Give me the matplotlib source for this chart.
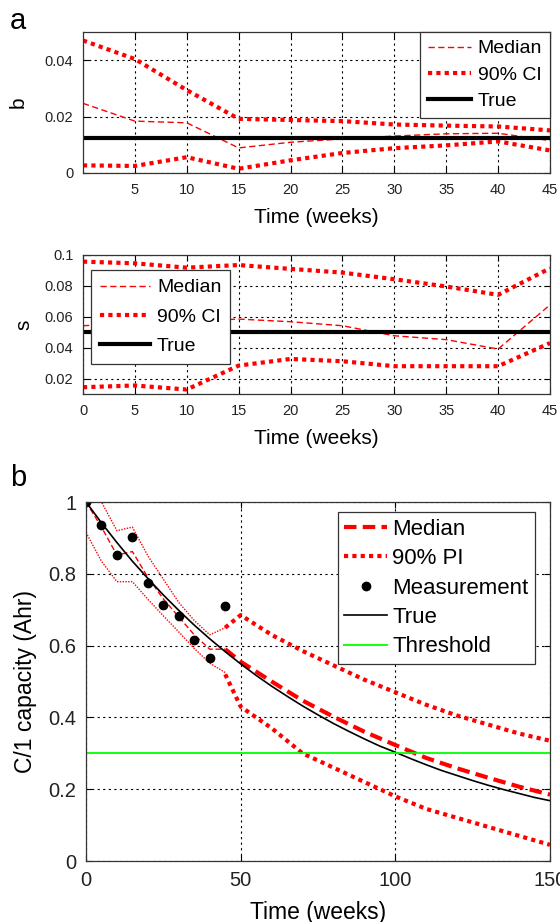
import matplotlib
matplotlib.use("Agg")
import matplotlib.pyplot as plt
import numpy as np

plt.rcParams['font.family'] = ['Liberation Sans', 'DejaVu Sans']

# ---------------- data ----------------
weeks_a = [0, 5, 10, 15, 20, 25, 30, 35, 40, 45]

b_median = [0.0247, 0.0184, 0.0178, 0.0089, 0.0109, 0.0121, 0.0131, 0.0139, 0.0141, 0.0115]
b_upper = [0.0470, 0.0404, 0.0294, 0.0192, 0.0188, 0.0184, 0.0172, 0.0168, 0.0165, 0.0151]
b_lower = [0.0027, 0.0025, 0.0056, 0.0015, 0.0045, 0.0071, 0.0088, 0.0098, 0.0112, 0.0080]
b_true = 0.0124

s_median = [0.0542, 0.0560, 0.0570, 0.0585, 0.0568, 0.0542, 0.0477, 0.0452, 0.0391, 0.0677]
s_upper = [0.0957, 0.0946, 0.0918, 0.0935, 0.0910, 0.0886, 0.0843, 0.0796, 0.0742, 0.0914]
s_lower = [0.0144, 0.0155, 0.0129, 0.0284, 0.0327, 0.0312, 0.0280, 0.0280, 0.0280, 0.0430]
s_true = 0.05

# panel b: estimation phase (weeks 0-45)
meas_weeks = [0, 5, 10, 15, 20, 25, 30, 35, 40, 45]
meas_cap = [1.0, 0.936, 0.852, 0.903, 0.775, 0.713, 0.683, 0.616, 0.565, 0.711]
est_median = [1.0, 0.93, 0.852, 0.862, 0.79, 0.73, 0.68, 0.63, 0.59, 0.59]
est_upper = [1.07, 1.0, 0.92, 0.93, 0.85, 0.785, 0.72, 0.67, 0.63, 0.65]
est_lower = [0.915, 0.835, 0.778, 0.778, 0.729, 0.683, 0.638, 0.592, 0.551, 0.525]

# panel b: prediction phase (weeks 45-150)
pred_weeks = [45, 50, 60, 70, 80, 90, 100, 110, 120, 130, 140, 150]
pred_median = [0.59, 0.555, 0.50, 0.447, 0.402, 0.36, 0.323, 0.287, 0.258, 0.232, 0.207, 0.185]
pred_upper = [0.65, 0.685, 0.63, 0.585, 0.545, 0.505, 0.47, 0.435, 0.405, 0.38, 0.355, 0.335]
pred_lower = [0.52, 0.43, 0.37, 0.30, 0.26, 0.22, 0.18, 0.145, 0.12, 0.095, 0.07, 0.045]

true_weeks = [0, 5, 10, 15, 20, 25, 30, 35, 40, 45, 50, 55, 60, 65, 70, 75, 80, 85, 90,
              95, 100, 105, 110, 115, 120, 125, 130, 135, 140, 145, 150]
true_cap = [1.0, 0.942, 0.887, 0.835, 0.787, 0.741, 0.698, 0.657, 0.619, 0.583, 0.549,
            0.517, 0.487, 0.459, 0.432, 0.407, 0.383, 0.361, 0.340, 0.320, 0.303,
            0.285, 0.268, 0.252, 0.238, 0.224, 0.211, 0.199, 0.188, 0.177, 0.168]
threshold = 0.3

# ---------------- figure ----------------
W, H = 560, 922
fig = plt.figure(figsize=(W / 100, H / 100), dpi=100)

RED = (1, 0, 0)
DOT = (0, (1, 1))


def style_axes(ax, tick_fs):
    ax.grid(True, color='black', linestyle=(0, (2, 3)), linewidth=0.8)
    ax.tick_params(direction='in', top=True, right=True, length=4,
                   labelsize=tick_fs, pad=7, width=0.8, labelcolor='#222222')
    for sp in ax.spines.values():
        sp.set_linewidth(0.9)
        sp.set_color('#333333')
    ax.set_axisbelow(True)


def frame(leg):
    leg.get_frame().set_linewidth(0.9)


# ----- top: b -----
ax1 = fig.add_axes([83 / W, 1 - 173 / H, (550 - 83) / W, (173 - 32) / H])
ax1.plot(weeks_a, b_median, color=RED, lw=1.0, dashes=(4.5, 2.5), label='Median')
ax1.plot(weeks_a, b_upper, color=RED, lw=3.0, linestyle=DOT, dash_capstyle='butt', label='90% CI')
ax1.plot(weeks_a, b_lower, color=RED, lw=3.0, linestyle=DOT, dash_capstyle='butt')
ax1.axhline(b_true, color='black', lw=3.0, label='True')
ax1.set_xlim(0, 45)
ax1.set_ylim(0, 0.05)
ax1.set_xticks([5, 10, 15, 20, 25, 30, 35, 40, 45])
ax1.set_yticks([0, 0.02, 0.04])
ax1.set_yticklabels(['0', '0.02', '0.04'])
style_axes(ax1, 10.5)
ax1.set_xlabel('Time (weeks)', fontsize=15, labelpad=8)
ax1.set_ylabel('b', fontsize=15, labelpad=12)
leg1 = ax1.legend(loc='upper right', bbox_to_anchor=(1, 1), borderaxespad=0,
                  fontsize=14, handlelength=2.2, handletextpad=0.35, labelspacing=0.45,
                  borderpad=0.4, fancybox=False, framealpha=1, edgecolor='#333333')
frame(leg1)

# ----- middle: s -----
ax2 = fig.add_axes([83 / W, 1 - 394 / H, (550 - 83) / W, (394 - 255) / H])
ax2.plot(weeks_a, s_median, color=RED, lw=1.0, dashes=(4.5, 2.5), label='Median')
ax2.plot(weeks_a, s_upper, color=RED, lw=3.0, linestyle=DOT, dash_capstyle='butt', label='90% CI')
ax2.plot(weeks_a, s_lower, color=RED, lw=3.0, linestyle=DOT, dash_capstyle='butt')
ax2.axhline(s_true, color='black', lw=3.0, label='True')
ax2.set_xlim(0, 45)
ax2.set_ylim(0.01, 0.1)
ax2.set_xticks([0, 5, 10, 15, 20, 25, 30, 35, 40, 45])
ax2.set_yticks([0.02, 0.04, 0.06, 0.08, 0.1])
ax2.set_yticklabels(['0.02', '0.04', '0.06', '0.08', '0.1'])
style_axes(ax2, 10.5)
ax2.set_xlabel('Time (weeks)', fontsize=15, labelpad=8)
ax2.set_ylabel('s', fontsize=15, labelpad=8)
leg2 = ax2.legend(loc='upper left', bbox_to_anchor=(0.017, 0.892), borderaxespad=0,
                  fontsize=14, handlelength=2.6, handletextpad=0.35, labelspacing=0.6,
                  borderpad=0.45, fancybox=False, framealpha=1, edgecolor='#333333')
frame(leg2)

# ----- bottom: capacity -----
ax3 = fig.add_axes([86 / W, 1 - 861 / H, (550 - 86) / W, (861 - 502) / H])
ax3.plot(meas_weeks, est_median, color=RED, lw=1.0, dashes=(4, 2))
ax3.plot(meas_weeks, est_upper, color=RED, lw=1.0, linestyle=DOT, dash_capstyle='butt')
ax3.plot(meas_weeks, est_lower, color=RED, lw=1.0, linestyle=DOT, dash_capstyle='butt')
ax3.plot(pred_weeks, pred_median, color=RED, lw=3.0, dashes=(3, 1.5), label='Median')
ax3.plot(pred_weeks, pred_upper, color=RED, lw=3.0, linestyle=DOT, dash_capstyle='butt', label='90% PI')
ax3.plot(pred_weeks, pred_lower, color=RED, lw=3.0, linestyle=DOT, dash_capstyle='butt')
ax3.plot(meas_weeks, meas_cap, 'o', color='black', ms=6, label='Measurement')
ax3.plot(true_weeks, true_cap, color='black', lw=1.2, label='True')
ax3.axhline(threshold, color=(0, 1, 0), lw=1.3, label='Threshold')
ax3.set_xlim(0, 150)
ax3.set_ylim(0, 1)
ax3.set_xticks([0, 50, 100, 150])
ax3.set_yticks([0, 0.2, 0.4, 0.6, 0.8, 1])
ax3.set_yticklabels(['0', '0.2', '0.4', '0.6', '0.8', '1'])
style_axes(ax3, 14.5)
ax3.set_xlabel('Time (weeks)', fontsize=16.5, labelpad=8)
ax3.set_ylabel('C/1 capacity (Ahr)', fontsize=16.5, labelpad=8)
leg3 = ax3.legend(loc='upper right', bbox_to_anchor=(0.968, 0.972), borderaxespad=0,
                  fontsize=16, handlelength=1.9, handletextpad=0.25, labelspacing=0.38,
                  borderpad=0.3, fancybox=False, framealpha=1, edgecolor='#333333')
frame(leg3)

fig.text(10 / W, 1 - 21 / H, 'a', fontsize=21, va='center', ha='left')
fig.text(10 / W, 1 - 478 / H, 'b', fontsize=21, va='center', ha='left')

fig.savefig('out.png', dpi=100)
